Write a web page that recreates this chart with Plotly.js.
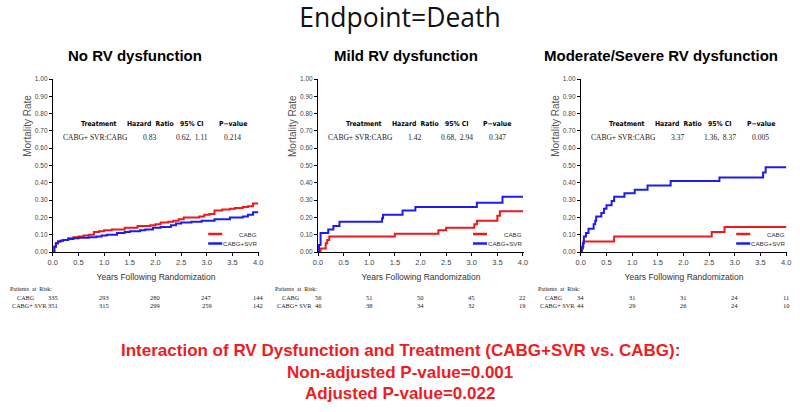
<!DOCTYPE html>
<html>
<head>
<meta charset="utf-8">
<script src="https://cdn.plot.ly/plotly-3.0.1.min.js"></script>
<style>
html,body{margin:0;padding:0;background:#fff;}
#chart{width:800px;height:412px;}
</style>
</head>
<body>
<div id="chart"></div>
<script>
// ---------- DATA ----------
const panelTitles = ["No RV dysfunction", "Mild RV dysfunction", "Moderate/Severe RV dysfunction"];
const seriesNames = ["CABG", "CABG+SVR"];

// Panel 1: No RV dysfunction
const p1CabgYears = [0, 0.03, 0.06, 0.1, 0.15, 0.2, 0.3, 0.4, 0.5, 0.6, 0.7, 0.8, 0.9, 1.0, 1.15, 1.25, 1.4, 1.5, 1.65, 1.75, 1.9, 2.0, 2.1, 2.25, 2.35, 2.45, 2.55, 2.7, 2.85, 2.95, 3.05, 3.15, 3.3, 3.45, 3.55, 3.7, 3.8, 3.9, 4.0];
const p1CabgRate  = [0, 0.03, 0.05, 0.06, 0.065, 0.07, 0.08, 0.085, 0.09, 0.095, 0.10, 0.115, 0.12, 0.125, 0.13, 0.13, 0.14, 0.14, 0.15, 0.15, 0.155, 0.16, 0.17, 0.175, 0.18, 0.19, 0.20, 0.20, 0.205, 0.215, 0.22, 0.24, 0.245, 0.25, 0.255, 0.26, 0.265, 0.28, 0.28];
const p1SvrYears  = [0, 0.03, 0.06, 0.1, 0.15, 0.2, 0.3, 0.4, 0.5, 0.7, 0.85, 0.95, 1.05, 1.25, 1.4, 1.5, 1.7, 1.8, 1.95, 2.1, 2.3, 2.4, 2.5, 2.7, 2.9, 3.0, 3.15, 3.3, 3.45, 3.55, 3.7, 3.8, 3.9, 4.0];
const p1SvrRate   = [0, 0.03, 0.05, 0.06, 0.065, 0.07, 0.075, 0.08, 0.082, 0.085, 0.09, 0.095, 0.10, 0.11, 0.115, 0.12, 0.125, 0.13, 0.14, 0.145, 0.155, 0.165, 0.17, 0.175, 0.18, 0.18, 0.19, 0.19, 0.20, 0.20, 0.205, 0.215, 0.23, 0.23];

// Panel 2: Mild RV dysfunction
const p2CabgYears = [0, 0.05, 0.15, 0.18, 0.22, 1.5, 2.35, 2.5, 3.05, 3.1, 3.5, 3.55, 4.0];
const p2CabgRate  = [0, 0.02, 0.05, 0.07, 0.09, 0.105, 0.125, 0.14, 0.16, 0.18, 0.21, 0.235, 0.235];
const p2SvrYears  = [0, 0.02, 0.05, 0.2, 0.3, 0.42, 1.25, 1.27, 1.65, 1.9, 3.1, 3.6, 4.0];
const p2SvrRate   = [0, 0.04, 0.11, 0.13, 0.15, 0.175, 0.195, 0.215, 0.24, 0.26, 0.285, 0.32, 0.32];

// Panel 3: Moderate/Severe RV dysfunction
const p3CabgYears = [0, 0.02, 0.05, 0.65, 2.55, 2.8, 4.0];
const p3CabgRate  = [0, 0.03, 0.06, 0.09, 0.115, 0.145, 0.145];
const p3SvrYears  = [0, 0.02, 0.04, 0.06, 0.1, 0.15, 0.25, 0.28, 0.3, 0.4, 0.45, 0.5, 0.6, 0.65, 0.85, 1.05, 1.3, 1.75, 2.7, 3.55, 3.6, 4.0];
const p3SvrRate   = [0, 0.02, 0.05, 0.09, 0.11, 0.135, 0.16, 0.18, 0.205, 0.225, 0.25, 0.27, 0.295, 0.32, 0.34, 0.36, 0.385, 0.41, 0.43, 0.46, 0.49, 0.49];

// Hazard ratio tables
const tableHeaders = ["Treatment", "Hazard  Ratio", "95% CI", "P\u2212value"];
const tableComparison = "CABG+ SVR:CABG";
const hazardRatios = ["0.83", "1.42", "3.37"];
const confIntervals = ["0.62,  1.11", "0.68,  2.94", "1.36,  8.37"];
const pValues = ["0.214", "0.347", "0.005"];

// Patients at risk
const riskYears = [0, 1, 2, 3, 4];
const p1RiskCabg = [335, 293, 280, 247, 144];
const p1RiskSvr  = [351, 315, 299, 259, 142];
const p2RiskCabg = [56, 51, 50, 45, 22];
const p2RiskSvr  = [46, 38, 34, 32, 19];
const p3RiskCabg = [34, 31, 31, 24, 11];
const p3RiskSvr  = [44, 29, 26, 24, 10];

const yTicks = [0, 0.1, 0.2, 0.3, 0.4, 0.5, 0.6, 0.7, 0.8, 0.9, 1.0];
const xTicks = [0, 0.5, 1.0, 1.5, 2.0, 2.5, 3.0, 3.5, 4.0];

const mainTitle = "Endpoint=Death";
const footerLines = [
  "Interaction of RV Dysfunction and Treatment (CABG+SVR vs. CABG):",
  "Non-adjusted P-value=0.001",
  "Adjusted P-value=0.022"
];

// ---------- STYLE ----------
const RED = "#f01818";
const BLUE = "#1c1cf0";
const NARROW = "DejaVu Sans Condensed, Liberation Sans Narrow, Liberation Sans, sans-serif";
const SANS = "Liberation Sans, Arial, sans-serif";
const SERIF = "Liberation Serif, Times New Roman, serif";

const panels = [
  {cy: p1CabgYears, cr: p1CabgRate, sy: p1SvrYears, sr: p1SvrRate, rc: p1RiskCabg, rs: p1RiskSvr, dom: [0.066, 0.324], labelX: 8, titleX: 135},
  {cy: p2CabgYears, cr: p2CabgRate, sy: p2SvrYears, sr: p2SvrRate, rc: p2RiskCabg, rs: p2RiskSvr, dom: [0.3975, 0.655], labelX: 273, titleX: 406},
  {cy: p3CabgYears, cr: p3CabgRate, sy: p3SvrYears, sr: p3SvrRate, rc: p3RiskCabg, rs: p3RiskSvr, dom: [0.726, 0.984], labelX: 536, titleX: 661}
];

const W = 800, H = 412;
const yDom = [1 - 252 / H, 1 - 79 / H];
const py = v => 1 - v / H;

const traces = [];
const layout = {
  width: W, height: H,
  margin: {l: 0, r: 0, t: 0, b: 0},
  paper_bgcolor: "#fff", plot_bgcolor: "#fff",
  showlegend: false,
  title: {text: mainTitle, x: 0.5, xanchor: "center", y: py(18), yanchor: "middle",
          font: {family: "Open Sans, DejaVu Sans, sans-serif", size: 26.5, color: "#111"}},
  annotations: [],
  shapes: [],
  font: {family: SANS}
};

panels.forEach((p, i) => {
  const n = i + 1;
  const xa = n === 1 ? "x" : "x" + n;
  const ya = n === 1 ? "y" : "y" + n;
  traces.push({x: p.cy, y: p.cr, xaxis: xa, yaxis: ya, type: "scatter", mode: "lines",
               line: {shape: "hv", color: RED, width: 2}, name: seriesNames[0]});
  traces.push({x: p.sy, y: p.sr, xaxis: xa, yaxis: ya, type: "scatter", mode: "lines",
               line: {shape: "hv", color: BLUE, width: 2}, name: seriesNames[1]});

  layout[n === 1 ? "xaxis" : "xaxis" + n] = {
    domain: p.dom, anchor: ya, range: [0, 4.02], tickvals: xTicks, tickformat: ".1f",
    showline: true, linecolor: "#000", linewidth: 1, ticks: "outside", ticklen: 3, tickcolor: "#000",
    showgrid: false, zeroline: false, fixedrange: true,
    tickfont: {family: SANS, size: 7.5, color: "#444"},
    title: {text: "Years Following Randomization", standoff: 8,
            font: {family: SANS, size: 8.5, color: "#333"}}
  };
  layout[n === 1 ? "yaxis" : "yaxis" + n] = {
    domain: yDom, anchor: xa, range: [0, 1.0], tickvals: yTicks, tickformat: ".2f",
    showline: true, linecolor: "#000", linewidth: 1, ticks: "outside", ticklen: 3, tickcolor: "#000",
    showgrid: false, zeroline: false, fixedrange: true,
    tickfont: {family: SANS, size: 6.5, color: "#444"}
  };

  const L = p.dom[0] * W, R = p.dom[1] * W;

  // y-axis title (placed as in the reference, above centre)
  layout.annotations.push({text: "Mortality Rate", xref: "paper", yref: "paper",
    x: (L - 25) / W, y: py(126), textangle: -90, xanchor: "center", yanchor: "middle",
    showarrow: false, font: {family: SANS, size: 10, color: "#555"}});

  // legend (manual, to match the compact spacing)
  layout.shapes.push({type: "line", xref: "paper", yref: "paper", x0: (R - 51) / W, x1: (R - 37) / W,
    y0: py(234), y1: py(234), line: {color: RED, width: 2.5}});
  layout.shapes.push({type: "line", xref: "paper", yref: "paper", x0: (R - 51) / W, x1: (R - 37) / W,
    y0: py(243.5), y1: py(243.5), line: {color: BLUE, width: 2.5}});
  layout.annotations.push({text: seriesNames[0], xref: "paper", yref: "paper", x: R / W, y: py(234),
    xanchor: "right", yanchor: "middle", showarrow: false, font: {family: SANS, size: 6.2, color: "#333"}});
  layout.annotations.push({text: seriesNames[1], xref: "paper", yref: "paper", x: R / W, y: py(244),
    xanchor: "right", yanchor: "middle", showarrow: false, font: {family: SANS, size: 6.2, color: "#333"}});

  // subplot title
  layout.annotations.push({
    text: "<b>" + panelTitles[i] + "</b>", xref: "paper", yref: "paper",
    x: p.titleX / W, y: py(56), xanchor: "center", yanchor: "middle",
    showarrow: false, font: {family: SANS, size: 15, color: "#000"}
  });

  // table
  const hx = [0.9, 1.9, 2.72, 3.5];
  tableHeaders.forEach((h, k) => {
    layout.annotations.push({text: "<b>" + h + "</b>", xref: xa, yref: ya, x: hx[k], y: 0.74,
      showarrow: false, xanchor: "center", yanchor: "middle",
      font: {family: NARROW, size: 6.8, color: "#000"}});
  });
  const vals = [tableComparison, hazardRatios[i], confIntervals[i], pValues[i]];
  const vx = [0.83, 1.88, 2.72, 3.5];
  vals.forEach((v, k) => {
    layout.annotations.push({text: v, xref: xa, yref: ya, x: vx[k], y: 0.66,
      showarrow: false, xanchor: "center", yanchor: "middle",
      font: {family: SERIF, size: 7.5, color: "#222"}});
  });

  // patients at risk
  layout.annotations.push({text: "Patients  at  Risk:", xref: "paper", yref: "paper",
    x: p.labelX / W, y: py(289), xanchor: "left", yanchor: "middle", showarrow: false,
    font: {family: SERIF, size: 6, color: "#222"}});
  layout.annotations.push({text: "CABG", xref: "paper", yref: "paper",
    x: (p.labelX + 7) / W, y: py(297), xanchor: "left", yanchor: "middle", showarrow: false,
    font: {family: SERIF, size: 6.2, color: "#222"}});
  layout.annotations.push({text: "CABG+ SVR", xref: "paper", yref: "paper",
    x: (p.labelX + 2) / W, y: py(305), xanchor: "left", yanchor: "middle", showarrow: false,
    font: {family: SERIF, size: 6.2, color: "#222"}});
  riskYears.forEach((yr, k) => {
    layout.annotations.push({text: String(p.rc[k]), xref: xa, yref: "paper", x: yr, y: py(297),
      xanchor: "center", yanchor: "middle", showarrow: false, font: {family: SERIF, size: 6.5, color: "#222"}});
    layout.annotations.push({text: String(p.rs[k]), xref: xa, yref: "paper", x: yr, y: py(305),
      xanchor: "center", yanchor: "middle", showarrow: false, font: {family: SERIF, size: 6.5, color: "#222"}});
  });
});

// footer
const footY = [350, 372, 393];
footerLines.forEach((t, k) => {
  layout.annotations.push({text: "<b>" + t + "</b>", xref: "paper", yref: "paper",
    x: 0.5, y: py(footY[k]), xanchor: "center", yanchor: "middle", showarrow: false,
    font: {family: SANS, size: 17, color: "#ee1c24"}});
});

Plotly.newPlot("chart", traces, layout, {displayModeBar: false, staticPlot: true});
</script>
</body>
</html>
